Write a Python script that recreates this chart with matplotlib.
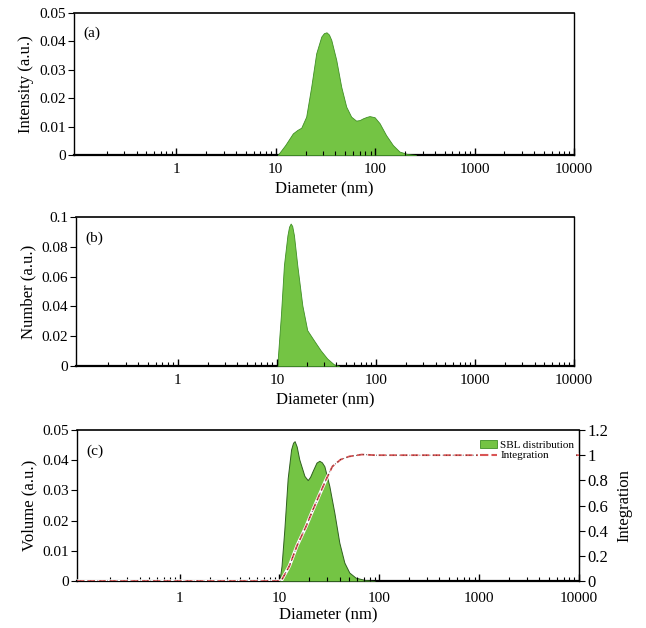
import matplotlib
matplotlib.use("Agg")
import matplotlib.pyplot as plt
from matplotlib.ticker import LogLocator, FixedLocator, NullFormatter, FuncFormatter, FixedFormatter
from matplotlib.patches import Patch
from matplotlib.lines import Line2D

plt.rcParams['font.family'] = ['Liberation Serif', 'DejaVu Serif']

# ---- data (a) intensity ----
d_int = [10.5, 12.5, 14.9, 16.5, 18.1, 20.3, 22.8, 25.6, 28.8, 30.6, 32.5, 34.4, 36.3, 40.7, 45.7,
         51.3, 57.5, 64.5, 70.0, 75.4, 82.0, 88.0, 98.9, 111, 129, 151, 176, 214, 258]
v_int = [0.0, 0.0035, 0.0076, 0.0088, 0.0096, 0.0135, 0.024, 0.0358, 0.0417, 0.0429, 0.0432, 0.0424,
         0.0405, 0.0335, 0.024, 0.017, 0.0135, 0.0121, 0.0123, 0.0129, 0.0134, 0.0137, 0.0133, 0.0112,
         0.007, 0.0035, 0.0012, 0.0003, 0.0]

# ---- data (b) number ----
d_num = [10.1, 11.0, 11.8, 12.8, 13.3, 13.8, 14.3, 14.9, 16.1, 18.1, 20.3, 23.7, 27.7, 32.3, 37.7, 42.5]
v_num = [0.0, 0.034, 0.0676, 0.0877, 0.0935, 0.0956, 0.094, 0.0877, 0.0676, 0.0407, 0.024, 0.0172,
         0.0105, 0.005, 0.0011, 0.0]

# ---- data (c) volume + integration ----
d_vol = [10.0, 10.5, 11.2, 12.1, 13.1, 13.7, 14.2, 14.9, 15.8, 17.8, 19.2, 20.3, 21.5, 23.5, 25.1,
         26.6, 28.2, 31.6, 35.5, 39.8, 44.7, 50.1, 58.0, 72.7, 91.0]
v_vol = [0.0, 0.005, 0.017, 0.034, 0.0436, 0.0458, 0.0463, 0.0445, 0.0403, 0.0348, 0.0334, 0.0345,
         0.0364, 0.0392, 0.0398, 0.0393, 0.038, 0.0315, 0.0226, 0.0127, 0.0061, 0.0028, 0.0011,
         0.0003, 0.0]

d_cum = [0.094, 10.4, 12.6, 15.0, 18.4, 21.5, 25.0, 29.1, 33.9, 41.0, 50.0, 67.0, 91.0, 10000]
v_cum = [0.0, 0.0, 0.12, 0.28, 0.43, 0.56, 0.68, 0.80, 0.91, 0.965, 0.99, 1.005, 1.0, 1.0]

x_major = [1, 10, 100, 1000, 10000]
x_labels = ['1', '10', '100', '1000', '10000']

GREEN = '#74c444'
EDGE = '#3f8f25'
W, H = 646, 628

fig = plt.figure(figsize=(W / 100, H / 100), dpi=100)


def make_ax(l, r, t, b):
    return fig.add_axes([l / W, 1 - b / H, (r - l) / W, (b - t) / H])


def style(ax, ylim, yticks, ylabel, tag, xpad=6, xlabelpad=4):
    ax.set_xscale('log')
    ax.set_xlim(0.094, 10000)
    ax.set_ylim(*ylim)
    ax.xaxis.set_major_locator(FixedLocator(x_major))
    ax.xaxis.set_major_formatter(FixedFormatter(x_labels))
    ax.xaxis.set_minor_locator(LogLocator(base=10, subs=range(2, 10), numticks=20))
    ax.xaxis.set_minor_formatter(NullFormatter())
    ax.set_yticks(yticks)
    ax.yaxis.set_major_formatter(FuncFormatter(lambda v, p: '%g' % v))
    ax.tick_params(axis='x', which='major', direction='in', length=5, width=1,
                   labelsize=11, pad=xpad, top=False)
    ax.tick_params(axis='x', which='minor', direction='in', length=3, width=0.8, top=False)
    ax.tick_params(axis='y', which='major', direction='out', length=4, width=0.8,
                   labelsize=11, pad=1.5, right=False)
    ax.spines['bottom'].set_visible(False)
    ax.axhline(ylim[0], color='black', lw=1.6, zorder=0.5, clip_on=False)
    ax.spines['left'].set_linestyle((0, (1.5, 1)))
    ax.spines['left'].set_linewidth(1.0)
    ax.spines['top'].set_linewidth(1.2)
    ax.spines['right'].set_linewidth(1.0)
    ax.set_xlabel('Diameter (nm)', fontsize=12, labelpad=xlabelpad)
    ax.set_ylabel(ylabel, fontsize=12, labelpad=4)
    ax.text(0.018, 0.86, tag, transform=ax.transAxes, fontsize=11, va='center', ha='left')


# (a)
axa = make_ax(74, 574, 13, 155)
axa.fill_between(d_int, v_int, 0, color=GREEN, edgecolor=EDGE, lw=0.6, zorder=1)
style(axa, (0, 0.05), [0, 0.01, 0.02, 0.03, 0.04, 0.05], 'Intensity (a.u.)', '(a)')

# (b)
axb = make_ax(76, 574, 217, 366)
axb.fill_between(d_num, v_num, 0, color=GREEN, edgecolor=EDGE, lw=0.6, zorder=1)
style(axb, (0, 0.1), [0, 0.02, 0.04, 0.06, 0.08, 0.1], 'Number (a.u.)', '(b)')

# (c)
axc = make_ax(77, 579, 430, 581)
axc.set_xscale('log')
axr = axc.twinx()
axc.fill_between(d_vol, v_vol, 0, color=GREEN, edgecolor='#2f5f1f', lw=0.7, zorder=1)
style(axc, (0, 0.05), [0, 0.01, 0.02, 0.03, 0.04, 0.05], 'Volume (a.u.)', '(c)',
      xpad=8, xlabelpad=1.5)

axr.set_ylim(0, 1.2)
axr.set_yticks([0, 0.2, 0.4, 0.6, 0.8, 1, 1.2])
axr.yaxis.set_major_formatter(FuncFormatter(lambda v, p: '%g' % v))
axr.tick_params(axis='y', direction='out', length=4, width=0.8, labelsize=12, pad=2)
axr.tick_params(axis='x', which='both', bottom=False, top=False,
                labelbottom=False, labeltop=False)
axr.set_ylabel('Integration', fontsize=12, labelpad=6)
for s in ['left', 'bottom', 'top']:
    axr.spines[s].set_visible(False)
axr.plot(d_cum, v_cum, color='white', lw=2.4, solid_capstyle='round', zorder=2)
axr.plot(d_cum, v_cum, color='#d95555', lw=1.3, ls=(0, (4, 2)), zorder=3)
axr.plot(d_cum, v_cum, color='#222222', lw=0.6, ls=(0, (1, 3)), zorder=4)
axc.set_xlim(0.094, 10000)

handles = [Patch(facecolor=GREEN, edgecolor=EDGE, lw=0.6),
           Line2D([0], [0], color='#d95555', lw=1.5, ls=(0, (4, 1.5)))]
leg = axr.legend(handles, ['SBL distribution', 'Integration'], loc='upper right',
                 bbox_to_anchor=(0.995, 0.95), fontsize=8, frameon=True,
                 facecolor='white', edgecolor='none', framealpha=1,
                 handlelength=1.5, handleheight=0.7, handletextpad=0.3,
                 borderpad=0.2, labelspacing=0.1, borderaxespad=0)

fig.savefig('out.png', dpi=100)
